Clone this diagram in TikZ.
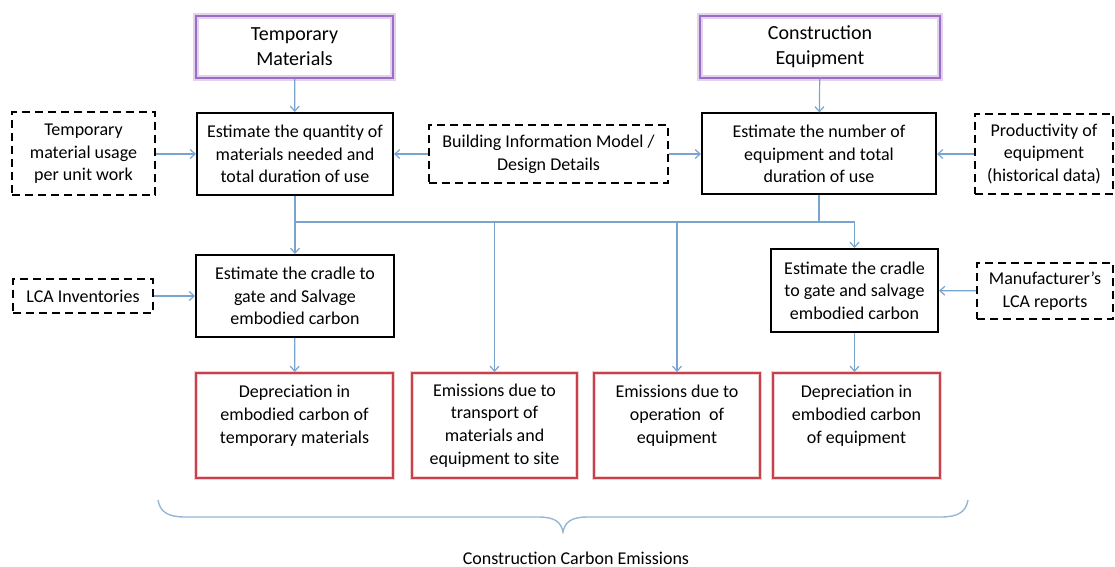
\documentclass[tikz,border=0pt]{standalone}
\usepackage{fontspec}
\setmainfont{Carlito}
\usetikzlibrary{arrows.meta,positioning,calc}
\definecolor{linkblue}{RGB}{122,164,208}
\definecolor{bracegray}{RGB}{150,182,214}
\definecolor{srcpurple}{RGB}{158,108,196}
\definecolor{outred}{RGB}{200,64,74}

\begin{document}
\begin{tikzpicture}[x=0.5pt,y=-0.5pt,
    box/.style={draw,line width=1pt,align=center,inner sep=0pt,font=\fontsize{9}{11.3}\selectfont},
    srcbox/.style={box,draw=srcpurple,minimum height=31pt,font=\fontsize{10}{12.5}\selectfont,
        preaction={draw=srcpurple!30,line width=2.6pt}},
    databox/.style={box,dashed,dash pattern=on 4pt off 2.5pt},
    outbox/.style={box,draw=outred,minimum height=52.5pt,
        preaction={draw=outred!25,line width=2.2pt}},
    link/.style={draw=linkblue,line width=0.6pt,-{Straight Barb[length=2.5pt,width=4.5pt]}},
    busline/.style={draw=linkblue,line width=0.6pt}]
    \useasboundingbox (0,0) rectangle (1115,567);

    % Sources
    \node[srcbox,minimum width=98.5pt] (tmat) at (294.5,47) {Temporary\\Materials};
    \node[srcbox,minimum width=120pt] (ceq) at (820,47) {Construction\\Equipment};

    % Quantity estimates and their inputs
    \node[box,minimum width=98pt,minimum height=41pt] (qty) at (295,154) {Estimate the quantity of\\materials needed and\\total duration of use};
    \node[box,minimum width=117pt,minimum height=40.5pt] (num) at (819,154) {Estimate the number of\\equipment and total\\duration of use};
    \node[databox,minimum width=71.5pt,minimum height=41.5pt] (usage) at (83.5,154) {Temporary\\material usage\\per unit work};
    \node[databox,minimum width=119.5pt,minimum height=29pt] (bim) at (548.5,154) {Building Information Model /\\Design Details};
    \node[databox,minimum width=69pt,minimum height=40pt] (prod) at (1044,154) {Productivity of\\equipment\\(historical data)};

    % Embodied carbon estimates
    \node[box,minimum width=99pt,minimum height=41pt] (cradL) at (295,296) {Estimate the cradle to\\gate and Salvage\\embodied carbon};
    \node[databox,minimum width=70pt,minimum height=17pt] (lca) at (83,296) {LCA Inventories};
    \node[box,minimum width=83.5pt,minimum height=41.5pt] (cradR) at (854.5,290.5) {Estimate the cradle\\to gate and salvage\\embodied carbon};
    \node[databox,minimum width=68pt,minimum height=28pt] (manuf) at (1045,291) {Manufacturer's\\LCA reports};

    % Emission outputs
    \node[outbox,minimum width=98.5pt] (deptmp) at (294.5,425.5) {Depreciation in\\embodied carbon of\\temporary materials\\~};
    \node[outbox,minimum width=82.5pt] (trans) at (494.5,425.5) {Emissions due to\\transport of\\materials and\\equipment to site};
    \node[outbox,minimum width=83pt] (oper) at (677,425.5) {Emissions due to\\operation~ of\\equipment\\~};
    \node[outbox,minimum width=83.5pt] (depeq) at (856.5,425.5) {Depreciation in\\embodied carbon\\of equipment\\~};

    % Connectors
    \coordinate (busy) at (0,222);
    \draw[link] (tmat) -- (qty);
    \draw[link] (ceq) -- (num);
    \draw[link] (usage) -- (qty);
    \draw[link] (bim) -- (qty);
    \draw[link] (bim) -- (num);
    \draw[link] (prod) -- (num);
    \draw[link] (qty) -- (cradL);
    \draw[busline] (qty.south |- busy) -- (num.south |- busy);
    \draw[link] (num.south) -- (num.south |- busy) -| (cradR.north);
    \draw[link] (trans.north |- busy) -- (trans);
    \draw[link] (oper.north |- busy) -- (oper);
    \draw[link] (lca) -- (cradL);
    \draw[link] (manuf) -- (cradR);
    \draw[link] (cradL) -- (deptmp);
    \draw[link] (cradR.south) -- (cradR.south |- depeq.north);

    % Brace over all outputs
    \draw[bracegray,line width=0.7pt] (158,500) .. controls (160,512) and (168,517) .. (185,517)
        -- (538,517) .. controls (555,517) and (561,522) .. (563,532)
        .. controls (565,522) and (571,517) .. (588,517)
        -- (941,517) .. controls (958,517) and (966,512) .. (968,500);
    \node[font=\fontsize{9}{11}\selectfont] (total) at (576,558) {Construction Carbon Emissions};
\end{tikzpicture}
\end{document}
